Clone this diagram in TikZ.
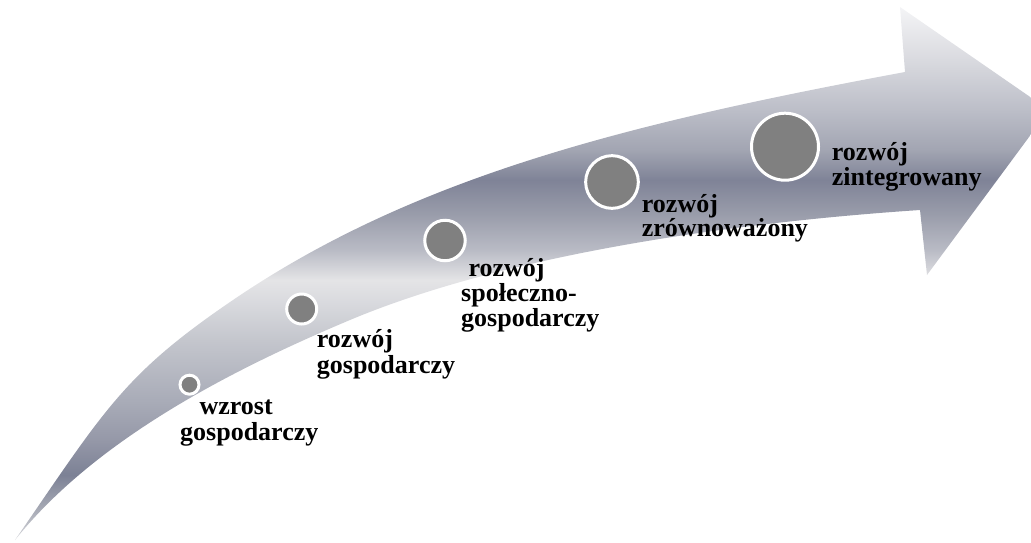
\documentclass[tikz,border=0pt]{standalone}
\usepackage{fontspec}
\setmainfont{Liberation Serif}
\definecolor{s7}{HTML}{F4F4F6}
\definecolor{s60}{HTML}{D9DADF}
\definecolor{s110}{HTML}{BCBEC8}
\definecolor{s150}{HTML}{A2A5B2}
\definecolor{s180}{HTML}{7F8397}
\definecolor{s215}{HTML}{9A9DAB}
\definecolor{s250}{HTML}{B9BBC5}
\definecolor{s280}{HTML}{E4E4E6}
\definecolor{s300}{HTML}{DADBDF}
\definecolor{s340}{HTML}{C4C6CD}
\definecolor{s400}{HTML}{A9ACB8}
\definecolor{s440}{HTML}{9598A8}
\definecolor{s475}{HTML}{7C8195}
\definecolor{s510}{HTML}{A8ABB6}
\definecolor{s540}{HTML}{D6D7DB}
\definecolor{dotgray}{HTML}{808080}
\pgfdeclareverticalshading{arrowshade}{100bp}{color(0bp)=(s540); color(25bp)=(s540); color(27.81bp)=(s510); color(31.10bp)=(s475); color(34.38bp)=(s440); color(38.13bp)=(s400); color(43.76bp)=(s340); color(47.51bp)=(s300); color(49.39bp)=(s280); color(52.20bp)=(s250); color(55.49bp)=(s215); color(58.77bp)=(s180); color(61.59bp)=(s150); color(65.34bp)=(s110); color(70.03bp)=(s60); color(75bp)=(s7); color(100bp)=(s7)}
\tikzset{
  dot/.style={circle, draw=white, line width=3pt, fill=dotgray, inner sep=0pt},
  lbl/.style={font=\fontsize{26}{25}\selectfont\bfseries, inner sep=0pt, anchor=base west, text=black}
}
\begin{document}
\begin{tikzpicture}[x=1pt,y=-1pt]
\useasboundingbox (0,0) rectangle (1031,542);
\clip (0,0) rectangle (1031,542);
% arrow body
\coordinate (tail) at (15,540);
\coordinate (up) at (233,300);
\coordinate (neckT) at (905,72);
\coordinate (headT) at (900,7);
\coordinate (tip) at (1049,110);
\coordinate (headB) at (927,275);
\coordinate (neckB) at (920,210);
\coordinate (low) at (350,320);
\shade[shading=arrowshade]
  (tail) .. controls (105,409.5) and (123,374.8) .. (up)
  .. controls (413,177.6) and (625,123.8) .. (neckT)
  -- (headT) -- (tip) -- (headB) -- (neckB)
  .. controls (720,223.4) and (500,257) .. (low)
  .. controls (230,370.4) and (95,440) .. (tail)
  -- cycle;
% milestones
\node[dot, minimum size=19pt]   (c1) at (189.5,384.7) {};
\node[dot, minimum size=30pt]   (c2) at (301.7,309) {};
\node[dot, minimum size=40.5pt] (c3) at (445,240.5) {};
\node[dot, minimum size=52.7pt] (c4) at (612,182) {};
\node[dot, minimum size=67pt]   (c5) at (785,146.7) {};
% labels
\node[lbl] (t1a) at (199.3,414.7) {wzrost};
\node[lbl] (t1b) at (180,440.3) {gospodarczy};
\node[lbl] (t2a) at (316.7,347.7) {rozwój};
\node[lbl] (t2b) at (316.7,373.3) {gospodarczy};
\node[lbl] (t3a) at (468.3,276) {rozwój};
\node[lbl] (t3b) at (461,301.7) {społeczno-};
\node[lbl] (t3c) at (461,326.7) {gospodarczy};
\node[lbl] (t4a) at (641.7,212.3) {rozwój};
\node[lbl] (t4b) at (641.7,236.7) {zrównoważony};
\node[lbl] (t5a) at (831.7,160) {rozwój};
\node[lbl] (t5b) at (831.7,185) {zintegrowany};
\end{tikzpicture}
\end{document}
